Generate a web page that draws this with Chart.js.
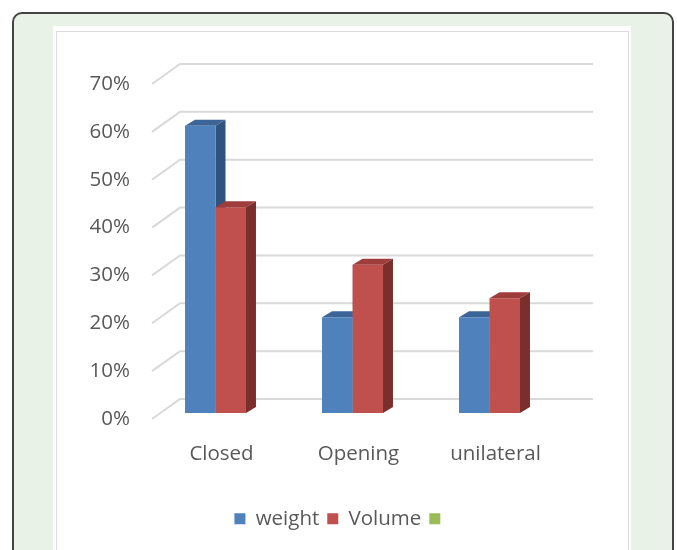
<!DOCTYPE html>
<html>
<head>
<meta charset="utf-8">
<script src="https://cdn.jsdelivr.net/npm/chart.js@4"></script>
<style>
  body { margin: 0; width: 677px; height: 550px; overflow: hidden; background: #fff; }
  #frame {
    position: absolute; left: 12px; top: 12px; width: 658px; height: 560px;
    border: 2px solid #444; border-radius: 10px; background: #e8f2e6;
  }
  #panel {
    position: absolute; left: 53px; top: 26px; width: 578px; height: 540px; background: #fff;
  }
  #panel .edge {
    position: absolute; left: 3px; top: 5px; right: 2px; bottom: 0; border: 1.5px solid #dcdcdc;
  }
  #wrap { position: absolute; left: 57px; top: 32px; width: 571px; height: 518px; }
</style>
</head>
<body>
<div id="frame"></div>
<div id="panel"><div class="edge"></div></div>
<div id="wrap"><canvas id="barChart"></canvas></div>
<script>
const categories = ['Closed', 'Opening', 'unilateral'];
const weight = [0.60, 0.20, 0.20];
const volume = [0.43, 0.31, 0.24];
const third = [null, null, null];
const yTicks = [0, 0.1, 0.2, 0.3, 0.4, 0.5, 0.6, 0.7];

const FONT = '"Open Sans", sans-serif';
const DEPTH_X = 10, DEPTH_Y = 6;

// side + top faces for each bar of a dataset
function drawDepth(chart, index, topColor, sideColor) {
  const ctx = chart.ctx;
  chart.getDatasetMeta(index).data.forEach(bar => {
    if (bar.y == null || isNaN(bar.y)) return;
    const l = bar.x - bar.width / 2, r = bar.x + bar.width / 2;
    const t = bar.y, b = bar.base;
    ctx.fillStyle = topColor;
    ctx.beginPath();
    ctx.moveTo(l, t); ctx.lineTo(l + DEPTH_X, t - DEPTH_Y);
    ctx.lineTo(r + DEPTH_X, t - DEPTH_Y); ctx.lineTo(r, t);
    ctx.closePath(); ctx.fill();
    ctx.fillStyle = sideColor;
    ctx.beginPath();
    ctx.moveTo(r, t); ctx.lineTo(r + DEPTH_X, t - DEPTH_Y);
    ctx.lineTo(r + DEPTH_X, b - DEPTH_Y); ctx.lineTo(r, b);
    ctx.closePath(); ctx.fill();
  });
}

const depthPlugin = {
  id: 'depth',
  beforeDatasetsDraw(chart) {
    const ctx = chart.ctx, area = chart.chartArea, y = chart.scales.y;
    ctx.save();
    ctx.strokeStyle = '#d9d9d9';
    ctx.lineWidth = 2;
    yTicks.forEach(v => {
      const py = y.getPixelForValue(v);
      ctx.beginPath();
      ctx.moveTo(area.left + 5, py + 6);
      ctx.lineTo(area.left + 33, py - 14);
      ctx.lineTo(area.right + 35, py - 14);
      ctx.stroke();
    });
    drawDepth(chart, 0, '#3c6496', '#30527e');
    ctx.restore();
  },
  afterDatasetsDraw(chart) {
    chart.ctx.save();
    drawDepth(chart, 1, '#9e3d3a', '#7a2f2d');
    chart.ctx.restore();
  }
};

const CHART = document.getElementById('barChart');
let barChart = new Chart(CHART, {
  type: 'bar',
  data: {
    labels: categories,
    datasets: [
      { label: 'weight', data: weight, backgroundColor: '#4f81bd' },
      { label: 'Volume', data: volume, backgroundColor: '#c0504d' },
      { label: '', data: third, backgroundColor: '#9bbb59' }
    ]
  },
  options: {
    responsive: true,
    maintainAspectRatio: false,
    animation: false,
    skipNull: true,
    categoryPercentage: 0.445,
    barPercentage: 1,
    layout: { padding: { top: 46, bottom: 11 } },
    plugins: {
      tooltip: { enabled: false },
      legend: {
        position: 'bottom',
        labels: {
          boxWidth: 11, boxHeight: 11, padding: 8,
          color: '#595959',
          font: { family: FONT, size: 20.5 }
        }
      }
    },
    scales: {
      x: {
        grid: { display: false, drawTicks: false },
        border: { display: false },
        ticks: { color: '#595959', padding: 29, labelOffset: 6, font: { family: FONT, size: 20.5 } },
        afterFit(s) { s.height = 87.5; }
      },
      y: {
        min: 0, max: 0.7,
        grid: { display: false, drawTicks: false },
        border: { display: false },
        ticks: {
          stepSize: 0.1, padding: 17, labelOffset: 6, color: '#595959',
          font: { family: FONT, size: 20.5 },
          callback: v => Math.round(v * 100) + '%'
        },
        afterFit(s) { s.width = 90; }
      },
      yRight: {
        position: 'right',
        grid: { display: false, drawTicks: false },
        border: { display: false },
        ticks: { display: false },
        afterFit(s) { s.width = 70; }
      }
    }
  },
  plugins: [depthPlugin]
});
</script>
</body>
</html>
